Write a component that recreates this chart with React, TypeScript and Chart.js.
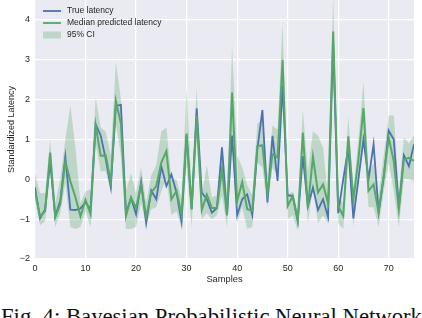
import React, { useEffect, useRef } from "react";
import { Chart, registerables } from "chart.js";

Chart.register(...registerables);

const samples: number[] = Array.from({ length: 76 }, (_, i) => i);

const trueLatency: number[] = [
  -0.2, -0.98, -0.75, 0.45, -0.93, -0.54, 0.57, -0.76, -0.77, -0.73,
  -0.58, -0.75, 1.38, 1.1, 0.5, -0.2, 1.84, 1.87, -0.85, -0.47,
  -0.88, -0.07, -1.1, -0.28, -0.5, 0.33, -0.17, 0.12, -0.33, -1.07,
  1.1, -0.75, 1.78, -0.33, -0.5, -0.84, -0.72, 0.8, -0.9, 1.1,
  -0.9, -0.5, -0.38, -0.9, 0.75, 1.74, -0.58, 1.09, -0.04, 2.35,
  -0.4, -0.42, -1.04, 0.58, -0.68, -0.21, -0.77, -0.5, -0.95, 3.4,
  -0.85, 0.0, 0.8, -0.98, 0.0, 1.0, 0.0, 0.88, -0.83, 0.04,
  1.22, 1.0, -0.71, 0.6, 0.33, 0.88,
];

const medianPredicted: number[] = [
  -0.3, -0.93, -0.8, 0.67, -0.95, -0.62, 0.45, -0.05, -0.45, -0.93,
  -0.52, -0.88, 1.36, 0.59, 0.6, -0.08, 1.97, 1.4, -0.92, -0.46,
  -0.72, -0.13, -0.95, -0.33, -0.17, 0.42, 0.71, -0.5, -0.29, -0.88,
  1.15, -0.75, 1.6, -0.77, -0.38, -0.72, -0.72, 0.25, -0.9, 2.18,
  -0.55, -0.07, -0.75, -0.79, 0.84, 0.85, -0.37, 0.63, 0.55, 3.0,
  -0.67, -0.42, -1.04, 1.17, -0.71, 0.57, -0.33, -0.13, -0.6, 3.71,
  -0.67, -0.92, 1.08, -0.5, 0.5, 1.79, -0.29, -0.13, -0.83, 0.08,
  1.04, 0.45, -0.75, 0.5, 0.54, 0.46,
];

const ciUpper: number[] = [
  0.15, -0.35, -0.35, 1.0, -0.6, 0.0, 1.0, 1.85, 0.8, -0.6,
  -0.3, -0.25, 2.05, 1.3, 1.2, 0.6, 2.95, 2.0, -0.3, 0.15,
  -0.35, 0.3, -0.6, 0.1, 0.35, 1.2, 1.3, 0.0, 0.0, -0.5,
  2.3, -0.2, 2.3, -0.4, 0.35, -0.45, -0.4, 0.9, -0.4, 3.35,
  0.6, 0.3, -0.15, -0.4, 1.4, 1.5, 0.1, 1.35, 1.25, 3.95,
  -0.4, -0.3, -0.8, 1.75, 0.2, 1.2, 1.1, 0.8, -0.5, 4.6,
  -0.4, -0.6, 1.6, -0.3, 1.0, 2.45, 0.2, 0.4, -0.4, 0.6,
  1.6, 1.6, -0.3, 1.05, 0.9, 1.1,
];

const ciLower: number[] = [
  -0.55, -1.15, -1.05, 0.2, -1.2, -0.85, -0.1, -1.2, -1.25, -1.2,
  -0.8, -1.2, 0.9, 0.2, 0.2, -0.3, 1.4, 0.6, -1.25, -1.25,
  -1.2, -0.6, -1.15, -0.75, -0.7, -0.3, 0.0, -0.9, -0.8, -1.2,
  0.3, -1.2, 1.0, -1.0, -0.85, -1.0, -0.9, -0.4, -1.2, 1.0,
  -1.1, -0.7, -1.25, -1.2, 0.4, 0.3, -0.7, 0.3, 0.1, 2.3,
  -1.0, -0.9, -1.3, 0.7, -1.1, -0.2, -1.1, -0.9, -1.1, 2.8,
  -1.1, -1.25, 0.5, -1.2, -0.1, 1.2, -0.7, -0.7, -1.2, -0.3,
  0.4, -0.3, -1.2, 0.0, 0.0, -0.05,
];

const legendLabels: string[] = ["True latency", "Median predicted latency", "95% CI"];

const BLUE = "#4c72b0";
const GREEN = "#55a868";
const BAND = "rgba(85,168,104,0.3)";
const TEXT = "#262626";
const FONT = "'Liberation Sans', Arial, sans-serif";

const legendPlugin = {
  id: "insideLegend",
  afterDraw(chart: any) {
    const ctx = chart.ctx;
    const x0 = chart.chartArea.left + 8;
    const y0 = chart.chartArea.top + 11;
    const rowH = 12;
    ctx.save();
    ctx.font = `8.5px ${FONT}`;
    ctx.textBaseline = "middle";
    ctx.fillStyle = TEXT;
    const kinds = ["line", "line", "patch"];
    const colors = [BLUE, GREEN, BAND];
    kinds.forEach((k, i) => {
      const y = y0 + i * rowH;
      if (k === "line") {
        ctx.strokeStyle = colors[i];
        ctx.lineWidth = 1.8;
        ctx.beginPath();
        ctx.moveTo(x0, y);
        ctx.lineTo(x0 + 18, y);
        ctx.stroke();
      } else {
        ctx.fillStyle = colors[i];
        ctx.fillRect(x0, y - 3.5, 18, 7);
      }
      ctx.fillStyle = TEXT;
      ctx.fillText(legendLabels[i], x0 + 24, y);
    });
    ctx.restore();
  },
};

export default function App() {
  const ref = useRef<HTMLCanvasElement | null>(null);

  useEffect(() => {
    if (!ref.current) return;
    const chart = new Chart(ref.current, {
      type: "line",
      data: {
        labels: samples,
        datasets: [
          {
            label: "Median predicted latency",
            data: medianPredicted,
            borderColor: GREEN,
            borderWidth: 2,
            pointRadius: 0,
            fill: false,
            tension: 0,
            order: 0,
          },
          {
            label: "True latency",
            data: trueLatency,
            borderColor: BLUE,
            borderWidth: 1.8,
            pointRadius: 0,
            fill: false,
            tension: 0,
            order: 1,
          },
          {
            label: "CI upper",
            data: ciUpper,
            borderWidth: 0,
            borderColor: "rgba(0,0,0,0)",
            pointRadius: 0,
            fill: false,
            order: 2,
          },
          {
            label: "95% CI",
            data: ciLower,
            borderWidth: 0,
            borderColor: "rgba(0,0,0,0)",
            backgroundColor: BAND,
            pointRadius: 0,
            fill: "-1",
            order: 3,
          },
        ],
      },
      options: {
        responsive: false,
        animation: false,
        devicePixelRatio: 1,
        layout: { padding: { left: 0, right: 8, top: 0, bottom: 0 } },
        plugins: {
          legend: { display: false },
          tooltip: { enabled: false },
        },
        scales: {
          x: {
            type: "linear",
            min: 0,
            max: 75,
            ticks: {
              stepSize: 10,
              color: TEXT,
              font: { family: FONT, size: 9 },
              padding: 4,
              maxRotation: 0,
            },
            afterBuildTicks: (axis: any) => {
              axis.ticks = axis.ticks.filter((t: any) => t.value % 10 === 0);
            },
            afterFit: (scale: any) => {
              scale.height = 33;
              scale.paddingLeft = 0;
              scale.paddingRight = 0;
            },
            grid: { color: "#ffffff", lineWidth: 1.2, drawTicks: false },
            border: { display: false },
            title: {
              display: true,
              text: "Samples",
              color: TEXT,
              font: { family: FONT, size: 9.3 },
              padding: { top: 0, bottom: 7 },
            },
          },
          y: {
            min: -2,
            max: 4.5,
            ticks: {
              stepSize: 1,
              color: TEXT,
              font: { family: FONT, size: 9 },
              padding: 5,
              callback: (v: any) => String(v).replace("-", "\u2212"),
            },
            afterBuildTicks: (axis: any) => {
              axis.ticks = axis.ticks.filter((t: any) => Number.isInteger(t.value));
            },
            afterFit: (scale: any) => {
              scale.width = 35;
              scale.paddingTop = 0;
              scale.paddingBottom = 0;
            },
            grid: { color: "#ffffff", lineWidth: 1.2, drawTicks: false },
            border: { display: false },
            title: {
              display: true,
              text: "Standardized Latency",
              color: TEXT,
              font: { family: FONT, size: 9 },
              padding: { top: 6.5, bottom: 0 },
            },
          },
        },
      },
      plugins: [
        {
          id: "bg",
          beforeDraw(c: any) {
            const { ctx, chartArea } = c;
            ctx.save();
            ctx.fillStyle = "#eaeaf2";
            ctx.fillRect(chartArea.left, chartArea.top, chartArea.right - chartArea.left, chartArea.bottom - chartArea.top);
            ctx.restore();
          },
        },
        legendPlugin,
      ],
    } as any);
    return () => chart.destroy();
  }, []);

  return (
    <div style={{ position: "absolute", left: 0, top: 0, width: 422, height: 318, overflow: "hidden", background: "#fff" }}>
      <canvas ref={ref} width={422} height={292} style={{ display: "block", width: 422, height: 292 }} />
      <div
        style={{
          position: "absolute",
          left: 1,
          top: 306,
          fontFamily: "'Liberation Serif', 'Times New Roman', serif",
          fontSize: 22.7,
          lineHeight: "22.7px",
          whiteSpace: "nowrap",
          color: "#111",
        }}
      >
        Fig. 4: Bayesian Probabilistic Neural Network
      </div>
    </div>
  );
}
